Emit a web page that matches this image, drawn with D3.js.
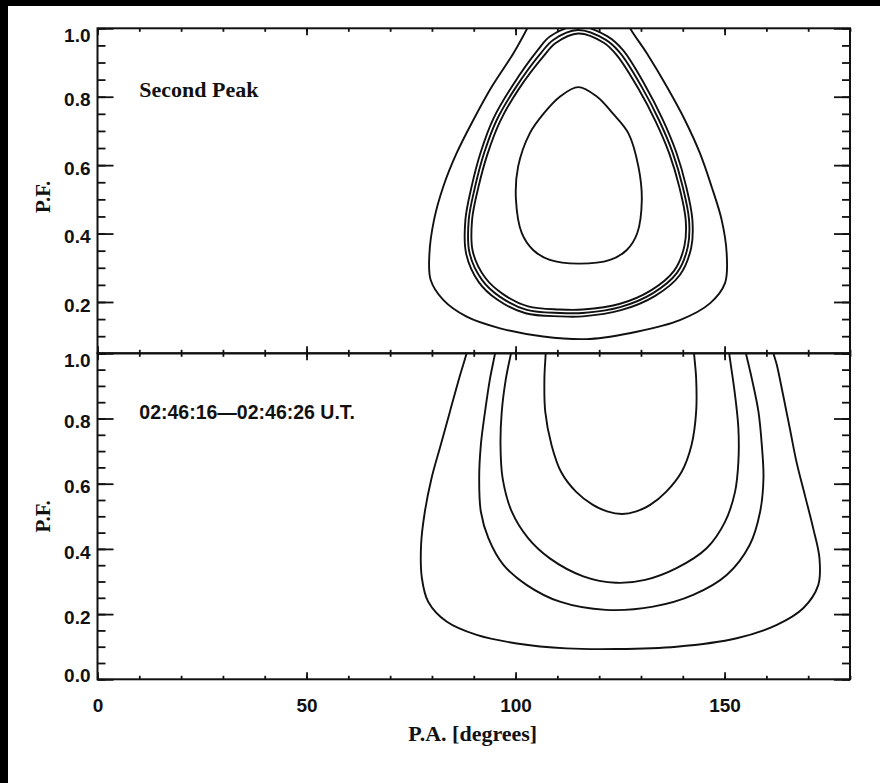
<!DOCTYPE html>
<html>
<head>
<meta charset="utf-8">
<script src="https://cdn.jsdelivr.net/npm/d3@7"></script>
<style>
  html, body { margin: 0; padding: 0; background: #000; }
  svg { display: block; }
</style>
</head>
<body>
<svg id="chart" width="880" height="783"></svg>
<script>
// ---- axis values ----
const paMajorTicks = [0, 50, 100, 150];
const paMinorTicks = d3.range(0, 181, 10);
const pfMajorTop = [0.2, 0.4, 0.6, 0.8, 1.0];
const pfMajorBottom = [0.0, 0.2, 0.4, 0.6, 0.8, 1.0];
const pfMinorTop = d3.range(0.05, 1.0001, 0.05);
const pfMinorBottom = d3.range(0.0, 1.0001, 0.05);

const titleTop = "Second Peak";
const titleBottom = "02:46:16\u201402:46:26 U.T.";
const yTitle = "P.F.";
const xTitle = "P.A. [degrees]";

// ---- contour levels, top panel (second peak): [P.A., P.F.] ----
const peakCore = [
  [115.0,0.828],[119.5,0.800],[123.2,0.752],[127.0,0.693],[129.4,0.595],[130.2,0.498],
  [129.1,0.401],[126.6,0.352],[122.6,0.323],[115.0,0.312],[108.2,0.323],[104.2,0.352],
  [101.5,0.401],[100.1,0.498],[100.6,0.595],[103.4,0.693],[106.8,0.752],[110.6,0.800]
];
const peakRingInner = [
  [115.0,0.985],[121.2,0.957],[124.3,0.920],[129.4,0.823],[133.5,0.728],[136.8,0.633],
  [139.2,0.535],[140.7,0.440],[140.4,0.364],[137.9,0.291],[132.4,0.234],[124.8,0.194],
  [116.1,0.178],[110.6,0.178],[103.0,0.187],[97.0,0.223],[92.8,0.270],[89.8,0.346],
  [89.6,0.440],[91.1,0.535],[93.3,0.633],[96.3,0.728],[100.8,0.823],[106.8,0.920],[109.6,0.957]
];
const peakRingMid = [
  [114.9,0.995],[121.6,0.966],[125.0,0.928],[130.2,0.828],[134.3,0.732],[137.6,0.636],
  [140.0,0.536],[141.5,0.440],[141.2,0.361],[138.6,0.285],[132.9,0.226],[125.0,0.185],
  [116.1,0.168],[110.6,0.168],[102.7,0.177],[96.3,0.215],[92.0,0.264],[89.0,0.343],
  [88.8,0.440],[90.3,0.536],[92.5,0.636],[95.5,0.732],[100.1,0.828],[106.1,0.928],[109.0,0.966]
];
const peakRingOuter = [
  [115.0,1.006],[121.9,0.977],[125.7,0.936],[131.0,0.833],[135.1,0.736],[138.4,0.639],
  [140.8,0.538],[142.3,0.440],[142.0,0.358],[139.3,0.279],[133.4,0.218],[125.2,0.176],
  [116.1,0.158],[110.6,0.158],[102.4,0.167],[95.6,0.207],[91.2,0.258],[88.2,0.340],
  [88.0,0.440],[89.5,0.538],[91.7,0.639],[94.7,0.736],[99.3,0.833],[105.3,0.936],[108.3,0.977]
];
const peakOuter = [
  [104.0,1.03],[102.8,1.0],[99.5,0.927],[94.3,0.829],[89.9,0.732],[85.9,0.635],[82.7,0.537],
  [80.5,0.440],[79.4,0.342],[79.7,0.264],[82.7,0.206],[88.3,0.157],[96.3,0.123],
  [106.6,0.099],[117.8,0.092],[129.0,0.113],[139.3,0.147],[146.5,0.196],[150.1,0.255],
  [150.5,0.342],[149.3,0.440],[146.9,0.537],[144.1,0.635],[140.5,0.732],[136.2,0.829],
  [131.4,0.927],[127.4,1.0],[126.3,1.03]
];

// ---- contour levels, bottom panel (02:46:16-02:46:26 U.T.) ----
const spanLevel4 = [
  [107.2,1.03],[107.2,1.0],[106.9,0.923],[107.1,0.821],[108.6,0.719],[110.9,0.636],[114.5,0.575],
  [118.5,0.535],[121.9,0.515],[125.5,0.507],[128.9,0.515],[132.2,0.535],[136.0,0.575],
  [139.7,0.636],[142.1,0.719],[143.2,0.821],[143.2,0.923],[142.7,1.0],[142.6,1.03]
];
const spanLevel3 = [
  [99.3,1.03],[98.9,1.0],[97.7,0.923],[96.7,0.821],[96.4,0.719],[96.9,0.617],[99.1,0.514],
  [103.0,0.433],[108.2,0.371],[116.2,0.316],[124.0,0.296],[131.0,0.305],[138.5,0.341],
  [145.7,0.402],[150.1,0.483],[152.5,0.575],[153.3,0.667],[153.3,0.770],[152.5,0.872],
  [151.5,0.964],[151.1,1.0],[150.9,1.03]
];
const spanLevel2 = [
  [95.5,1.03],[95.1,1.0],[93.9,0.923],[92.7,0.821],[91.7,0.719],[91.3,0.617],[91.7,0.514],
  [93.5,0.433],[97.1,0.351],[102.7,0.289],[110.6,0.238],[121.6,0.213],[132.9,0.223],
  [142.5,0.259],[150.5,0.320],[156.0,0.412],[158.5,0.514],[159.3,0.617],[158.9,0.719],
  [158.1,0.821],[156.5,0.923],[155.1,1.0],[154.6,1.03]
];
const spanLevel1 = [
  [88.9,1.03],[88.3,1.0],[86.5,0.923],[84.3,0.821],[82.1,0.719],[79.9,0.617],[78.3,0.514],
  [77.4,0.412],[77.6,0.310],[79.1,0.238],[83.5,0.177],[90.7,0.136],[100.3,0.110],
  [112.2,0.095],[124.2,0.093],[138.5,0.100],[152.9,0.126],[162.5,0.167],[168.8,0.218],
  [172.4,0.289],[172.7,0.371],[171.2,0.463],[169.2,0.565],[167.2,0.667],[165.6,0.770],
  [164.0,0.872],[162.5,0.964],[161.7,1.0],[161.4,1.03]
];

const topClosed = [peakCore, peakRingInner, peakRingMid, peakRingOuter];
const topOpen = [peakOuter];
const bottomOpen = [spanLevel1, spanLevel2, spanLevel3, spanLevel4];

// ---- layout ----
const W = 880, H = 783;
const plotLeft = 97.5, plotRight = 850;
const topY0 = 28.3, midY = 353.3, botY1 = 679.3;

const svg = d3.select("#chart");
svg.append("rect").attr("width", W).attr("height", H).attr("fill", "#000");
svg.append("rect").attr("x", 8).attr("y", 6).attr("width", W - 8).attr("height", H - 6).attr("fill", "#fff");

const x = d3.scaleLinear().domain([0, 180]).range([plotLeft, plotRight]);
const yTop = d3.scaleLinear().domain([0.05, 1.0]).range([midY, topY0]);
const yBot = d3.scaleLinear().domain([0.0, 1.0]).range([botY1, midY]);

const ink = "#111";
const tickFont = "'Liberation Sans', Arial, sans-serif";
const serifFont = "'Liberation Serif', 'Times New Roman', serif";

const defs = svg.append("defs");
function clipFor(id, y0, y1) {
  defs.append("clipPath").attr("id", id)
    .append("rect").attr("x", plotLeft).attr("y", y0)
    .attr("width", plotRight - plotLeft).attr("height", y1 - y0);
  return `url(#${id})`;
}

function drawPanel(opts) {
  const { y, yMajor, yMinor, clipId, closed, open, title, xLabels, yTitleShift } = opts;
  const [yLo, yHi] = y.domain();
  const r = y.range();
  const gTop = Math.min(...r), gBot = Math.max(...r);
  const g = svg.append("g");

  // contours
  const clip = clipFor(clipId, gTop, gBot);
  const cg = g.append("g").attr("clip-path", clip)
    .attr("fill", "none").attr("stroke", ink).attr("stroke-width", 1.9)
    .attr("stroke-linejoin", "round");
  const lineClosed = d3.line().x(d => x(d[0])).y(d => y(d[1])).curve(d3.curveCatmullRomClosed.alpha(0.5));
  const lineOpen = d3.line().x(d => x(d[0])).y(d => y(d[1])).curve(d3.curveCatmullRom.alpha(0.5));
  closed.forEach(c => cg.append("path").attr("d", lineClosed(c)));
  open.forEach(c => cg.append("path").attr("d", lineOpen(c)));

  const strip = s => s.select(".domain").remove();
  const style = (s, font) => {
    s.selectAll("line").attr("stroke", ink).attr("stroke-width", 1.8);
    s.selectAll("text").attr("fill", ink).attr("font-family", font)
      .attr("font-size", 19).attr("font-weight", "bold");
  };

  // left axis
  const left = g.append("g").attr("transform", `translate(${plotLeft},0)`);
  left.append("g").call(d3.axisLeft(y).tickValues(yMinor).tickSize(-8).tickFormat(""))
    .call(strip).call(s => style(s, tickFont));
  const lm = left.append("g").call(d3.axisLeft(y).tickValues(yMajor).tickSize(-16).tickPadding(7).tickFormat(d3.format(".1f")))
    .call(strip).call(s => style(s, tickFont));
  lm.selectAll("text").attr("dy", d => Math.abs(d - yHi) < 1e-9 ? "0.72em" : Math.abs(d - yLo) < 1e-9 ? "0.1em" : "0.48em");

  // right axis
  const right = g.append("g").attr("transform", `translate(${plotRight},0)`);
  right.append("g").call(d3.axisRight(y).tickValues(yMinor).tickSize(-8).tickFormat(""))
    .call(strip).call(s => style(s, tickFont));
  right.append("g").call(d3.axisRight(y).tickValues(yMajor).tickSize(-16).tickFormat(""))
    .call(strip).call(s => style(s, tickFont));

  // top edge (ticks point down)
  const top = g.append("g").attr("transform", `translate(0,${gTop})`);
  top.append("g").call(d3.axisTop(x).tickValues(paMinorTicks).tickSize(-3.5).tickFormat("")).call(strip).call(s => style(s, tickFont));
  top.append("g").call(d3.axisTop(x).tickValues(paMajorTicks).tickSize(-7).tickFormat("")).call(strip).call(s => style(s, tickFont));

  // bottom edge (ticks point up)
  const bot = g.append("g").attr("transform", `translate(0,${gBot})`);
  bot.append("g").call(d3.axisBottom(x).tickValues(paMinorTicks).tickSize(-3.5).tickFormat("")).call(strip).call(s => style(s, tickFont));
  bot.append("g").call(d3.axisBottom(x).tickValues(paMajorTicks).tickSize(-7).tickPadding(19)
      .tickFormat(xLabels ? d3.format("d") : ""))
    .call(strip).call(s => style(s, tickFont));

  // frame
  g.append("rect").attr("x", plotLeft).attr("y", gTop)
    .attr("width", plotRight - plotLeft).attr("height", gBot - gTop)
    .attr("fill", "none").attr("stroke", ink).attr("stroke-width", 2);

  // panel title, anchored in data coordinates
  g.append("text").attr("x", x(10)).attr("y", y(0.8))
    .attr("font-family", title.font).attr("font-size", title.size)
    .attr("font-weight", "bold").attr("fill", ink).text(title.text);

  // y title
  g.append("text")
    .attr("transform", `translate(50,${(gTop + gBot) / 2 + yTitleShift}) rotate(-90)`)
    .attr("text-anchor", "middle")
    .attr("font-family", serifFont).attr("font-size", 21).attr("font-weight", "bold")
    .attr("fill", ink).text(yTitle);
}

drawPanel({
  y: yTop, yMajor: pfMajorTop, yMinor: pfMinorTop, clipId: "clip-top",
  closed: topClosed, open: topOpen,
  title: { text: titleTop, font: serifFont, size: 22 }, xLabels: false, yTitleShift: 6
});
drawPanel({
  y: yBot, yMajor: pfMajorBottom, yMinor: pfMinorBottom, clipId: "clip-bottom",
  closed: [], open: bottomOpen,
  title: { text: titleBottom, font: tickFont, size: 19.5 }, xLabels: true, yTitleShift: 0
});

// x title
svg.append("text")
  .attr("x", (plotLeft + plotRight) / 2 - 1).attr("y", 741)
  .attr("text-anchor", "middle")
  .attr("font-family", serifFont).attr("font-size", 22).attr("font-weight", "bold")
  .attr("fill", ink).text(xTitle);
</script>
</body>
</html>
